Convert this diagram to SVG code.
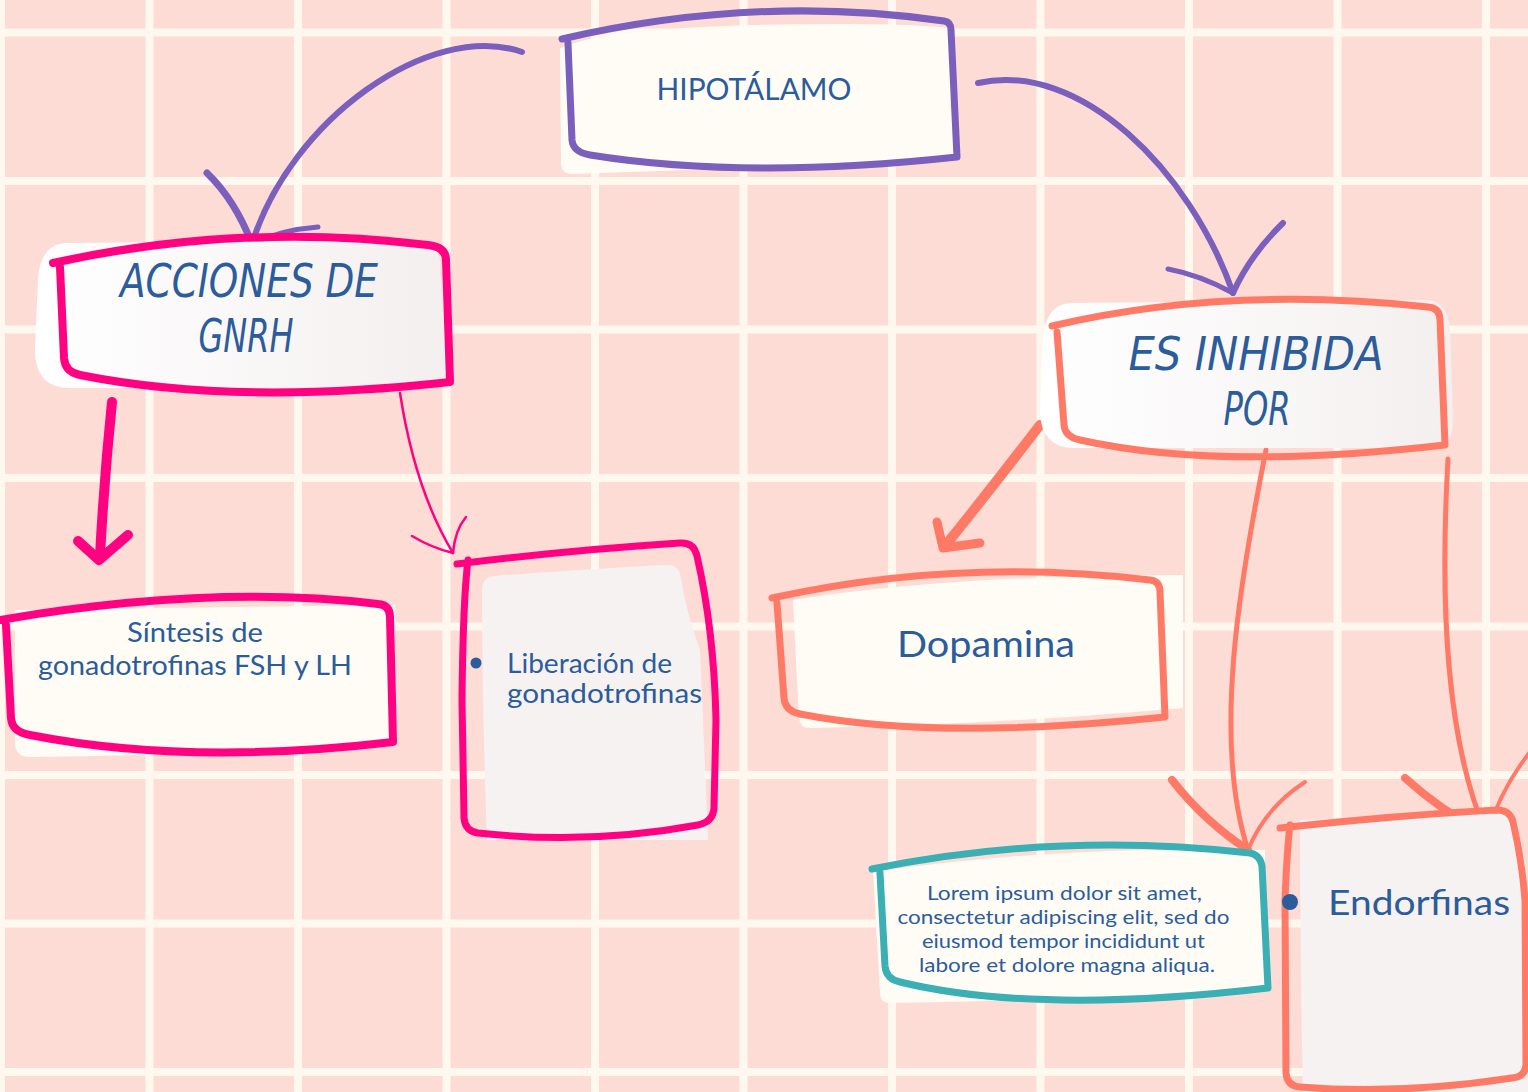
<svg xmlns="http://www.w3.org/2000/svg" width="1528" height="1092" viewBox="0 0 1528 1092">
<style>
.grid line{stroke:#FFF8EF;stroke-width:8}
.ln{fill:none;stroke-linecap:round;stroke-linejoin:round}
.pur{stroke:#7B5FBD}
.mag{stroke:#FF0282}
.cor{stroke:#FF7A66}
.teal{stroke:#3AAFB4}
.cream{fill:#FFFCF5}
.gray{fill:#F7F2F2}
.t{fill:#2B5C9B;font-family:Lato,"Open Sans","Noto Sans",sans-serif}
.h{fill:#2B5C9B;font-family:"Liberation Sans Narrow","DejaVu Sans Condensed","Liberation Sans",sans-serif;font-style:italic;font-size:46px;text-anchor:middle}
</style>
<defs>
<linearGradient id="gr" x1="0" y1="0" x2="1" y2="0">
<stop offset="0" stop-color="#FFFFFF"/>
<stop offset="1" stop-color="#F4EFEF"/>
</linearGradient>
</defs>
<rect width="1528" height="1092" fill="#FDDCD6"/>
<g class="grid">
<line x1="1" y1="0" x2="1" y2="1092"/>
<line x1="149.5" y1="0" x2="149.5" y2="1092"/>
<line x1="298" y1="0" x2="298" y2="1092"/>
<line x1="446.5" y1="0" x2="446.5" y2="1092"/>
<line x1="595" y1="0" x2="595" y2="1092"/>
<line x1="743.5" y1="0" x2="743.5" y2="1092"/>
<line x1="892" y1="0" x2="892" y2="1092"/>
<line x1="1040.5" y1="0" x2="1040.5" y2="1092"/>
<line x1="1189" y1="0" x2="1189" y2="1092"/>
<line x1="1337.5" y1="0" x2="1337.5" y2="1092"/>
<line x1="1486" y1="0" x2="1486" y2="1092"/>
<line x1="0" y1="32.5" x2="1528" y2="32.5"/>
<line x1="0" y1="181" x2="1528" y2="181"/>
<line x1="0" y1="329.5" x2="1528" y2="329.5"/>
<line x1="0" y1="478" x2="1528" y2="478"/>
<line x1="0" y1="626.5" x2="1528" y2="626.5"/>
<line x1="0" y1="775" x2="1528" y2="775"/>
<line x1="0" y1="923.5" x2="1528" y2="923.5"/>
<line x1="0" y1="1072" x2="1528" y2="1072"/>
</g>

<g id="connectors">
<path class="ln pur" stroke-width="6" d="M522,52 C430,20 290,120 252,244"/>
<path class="ln pur" stroke-width="7" d="M207,173 Q235,200 252,244"/>
<path class="ln pur" stroke-width="5" d="M318,227 Q280,230 252,244"/>
<path class="ln pur" stroke-width="6" d="M978,83 C1080,60 1190,170 1233,293"/>
<path class="ln pur" stroke-width="5" d="M1168,269 Q1200,275 1233,293"/>
<path class="ln pur" stroke-width="6" d="M1283,223 Q1250,255 1233,293"/>
<path class="ln mag" stroke-width="10" d="M112,402 Q104,480 100,556"/>
<path class="ln mag" stroke-width="10" d="M78,541 L99,560 L128,535"/>
<path class="ln mag" stroke-width="2.5" d="M400,393 Q415,490 453,553"/>
<path class="ln mag" stroke-width="2.5" d="M412,536 Q432,548 453,553"/>
<path class="ln mag" stroke-width="2.5" d="M466,517 Q455,530 453,553"/>
<path class="ln cor" stroke-width="10" d="M1040,425 Q990,490 945,546"/>
<path class="ln cor" stroke-width="9" d="M937,522 L943,548 L980,543"/>
<path class="ln cor" stroke-width="5" d="M1266,450 C1240,580 1212,740 1248,850"/>
<path class="ln cor" stroke-width="8" d="M1172,780 Q1205,822 1248,850"/>
<path class="ln cor" stroke-width="4" d="M1305,782 Q1265,808 1248,850"/>
<path class="ln cor" stroke-width="5" d="M1448,459 C1440,600 1445,740 1487,835"/>
<path class="ln cor" stroke-width="8" d="M1405,778 Q1440,810 1487,835"/>
<path class="ln cor" stroke-width="4" d="M1530,752 Q1500,790 1487,835"/>
</g>

<g id="hipotalamo">
<path class="cream" d="M560,48 Q600,30 750,25 Q900,22 948,28 L955,156 Q760,168 572,174 Q561,174 561,162 Z"/>
<path class="ln pur" stroke-width="7" d="M562,39 Q757,-6 944,21 Q951,22 951,30 L957,157 Q746,180 590,155 Q573,152 572,140 L568,43"/>
<text class="t" x="754" y="100" font-size="30" text-anchor="middle" textLength="195" lengthAdjust="spacingAndGlyphs">HIPOTÁLAMO</text>
</g>

<g id="acciones">
<path fill="url(#gr)" d="M65,243 Q40,245 38,280 L35,350 Q35,388 70,388 L430,388 Q446,388 445,370 L440,262 Q438,240 420,240 Z"/>
<path class="ln mag" stroke-width="8" d="M53,263 Q240,222 428,245 Q446,247 446,260 L450,382 Q235,406 80,375 Q65,372 64,358 L60,267"/>
<text class="h" x="249" y="297" textLength="258" lengthAdjust="spacingAndGlyphs">ACCIONES DE</text>
<text class="h" x="246" y="352" textLength="95" lengthAdjust="spacingAndGlyphs">GNRH</text>
</g>

<g id="inhibida">
<path fill="url(#gr)" d="M1070,303 Q1045,305 1043,340 L1040,410 Q1040,448 1075,448 L1435,448 Q1453,448 1453,420 L1450,330 Q1448,300 1425,300 Z"/>
<path class="ln cor" stroke-width="7" d="M1052,326 Q1226,285 1428,307 Q1440,308 1440,320 L1445,445 Q1218,471 1080,440 Q1065,437 1064,425 L1057,332"/>
<text class="h" x="1256" y="370" textLength="255" lengthAdjust="spacingAndGlyphs">ES INHIBIDA</text>
<text class="h" x="1257" y="425" textLength="67" lengthAdjust="spacingAndGlyphs">POR</text>
</g>

<g id="dopamina">
<path class="cream" d="M793,600 Q950,575 1183,575 L1183,708 Q990,725 810,728 Q800,728 799,718 Z"/>
<path class="ln cor" stroke-width="7" d="M772,598 Q959,557 1150,580 Q1160,581 1160,592 L1165,717 Q937,741 800,714 Q785,711 784,698 L777,603"/>
<text class="t" x="986" y="657" font-size="36" text-anchor="middle" textLength="178" lengthAdjust="spacingAndGlyphs">Dopamina</text>
</g>

<g id="sintesis">
<path class="cream" d="M15,610 L395,605 L395,745 Q200,755 30,757 Q15,757 15,742 Z"/>
<path class="ln mag" stroke-width="8" d="M0,620 Q211,584 378,604 Q390,605 390,617 L393,742 Q188,766 30,735 Q12,732 11,718 L6,625"/>
<text class="t" x="195" y="642" font-size="27" text-anchor="middle" textLength="136" lengthAdjust="spacingAndGlyphs">Síntesis de</text>
<text class="t" x="195" y="675" font-size="27" text-anchor="middle" textLength="314" lengthAdjust="spacingAndGlyphs">gonadotrofinas FSH y LH</text>
</g>

<g id="liberacion">
<path class="gray" d="M482,588 Q483,577 495,576 Q600,568 668,565 Q679,565 681,578 Q686,612 700,650 L708,840 L487,840 Q482,700 482,588 Z"/>
<path class="ln mag" stroke-width="7" d="M457,564 Q570,550 680,543 Q694,542 697,556 Q714,630 716,720 L714,808 Q713,822 698,825 Q590,845 478,833 Q465,831 464,818 L462,700 Q463,600 468,560"/>
<circle cx="476" cy="663" r="5.5" fill="#2B5C9B"/>
<text class="t" x="507" y="673" font-size="27" textLength="165" lengthAdjust="spacingAndGlyphs">Liberación de</text>
<text class="t" x="507" y="703" font-size="27" textLength="195" lengthAdjust="spacingAndGlyphs">gonadotrofinas</text>
</g>

<g id="lorem">
<path class="cream" d="M873,872 Q1060,845 1265,850 L1265,990 Q1080,1000 890,1003 Q880,1003 880,992 Z"/>
<path class="ln teal" stroke-width="7" d="M872,869 Q1059,831 1250,853 Q1260,855 1262,866 L1268,988 Q1036,1015 900,982 Q886,979 885,966 L880,873"/>
<text class="t" font-size="20" text-anchor="middle">
<tspan x="1067" y="900" textLength="275" lengthAdjust="spacingAndGlyphs">Lorem ipsum dolor sit amet,</tspan>
<tspan x="1066" y="924" textLength="332" lengthAdjust="spacingAndGlyphs">consectetur adipiscing elit, sed do</tspan>
<tspan x="1066" y="948" textLength="283" lengthAdjust="spacingAndGlyphs">eiusmod tempor incididunt ut</tspan>
<tspan x="1067" y="972" textLength="296" lengthAdjust="spacingAndGlyphs">labore et dolore magna aliqua.</tspan>
</text>
</g>

<g id="endorfinas">
<path class="gray" d="M1300,820 L1510,813 Q1528,850 1528,900 L1528,1092 L1303,1092 Q1300,950 1300,820 Z"/>
<path class="ln cor" stroke-width="7" d="M1280,828 Q1400,815 1497,810 Q1510,810 1513,822 Q1522,860 1525,900 L1526,1065 Q1525,1077 1512,1078 Q1400,1095 1300,1087 Q1287,1086 1286,1073 L1285,900 Q1287,850 1290,825"/>
<circle cx="1290" cy="902" r="8" fill="#2B5C9B"/>
<text class="t" x="1328" y="915" font-size="35" textLength="182" lengthAdjust="spacingAndGlyphs">Endorfinas</text>
</g>
</svg>
